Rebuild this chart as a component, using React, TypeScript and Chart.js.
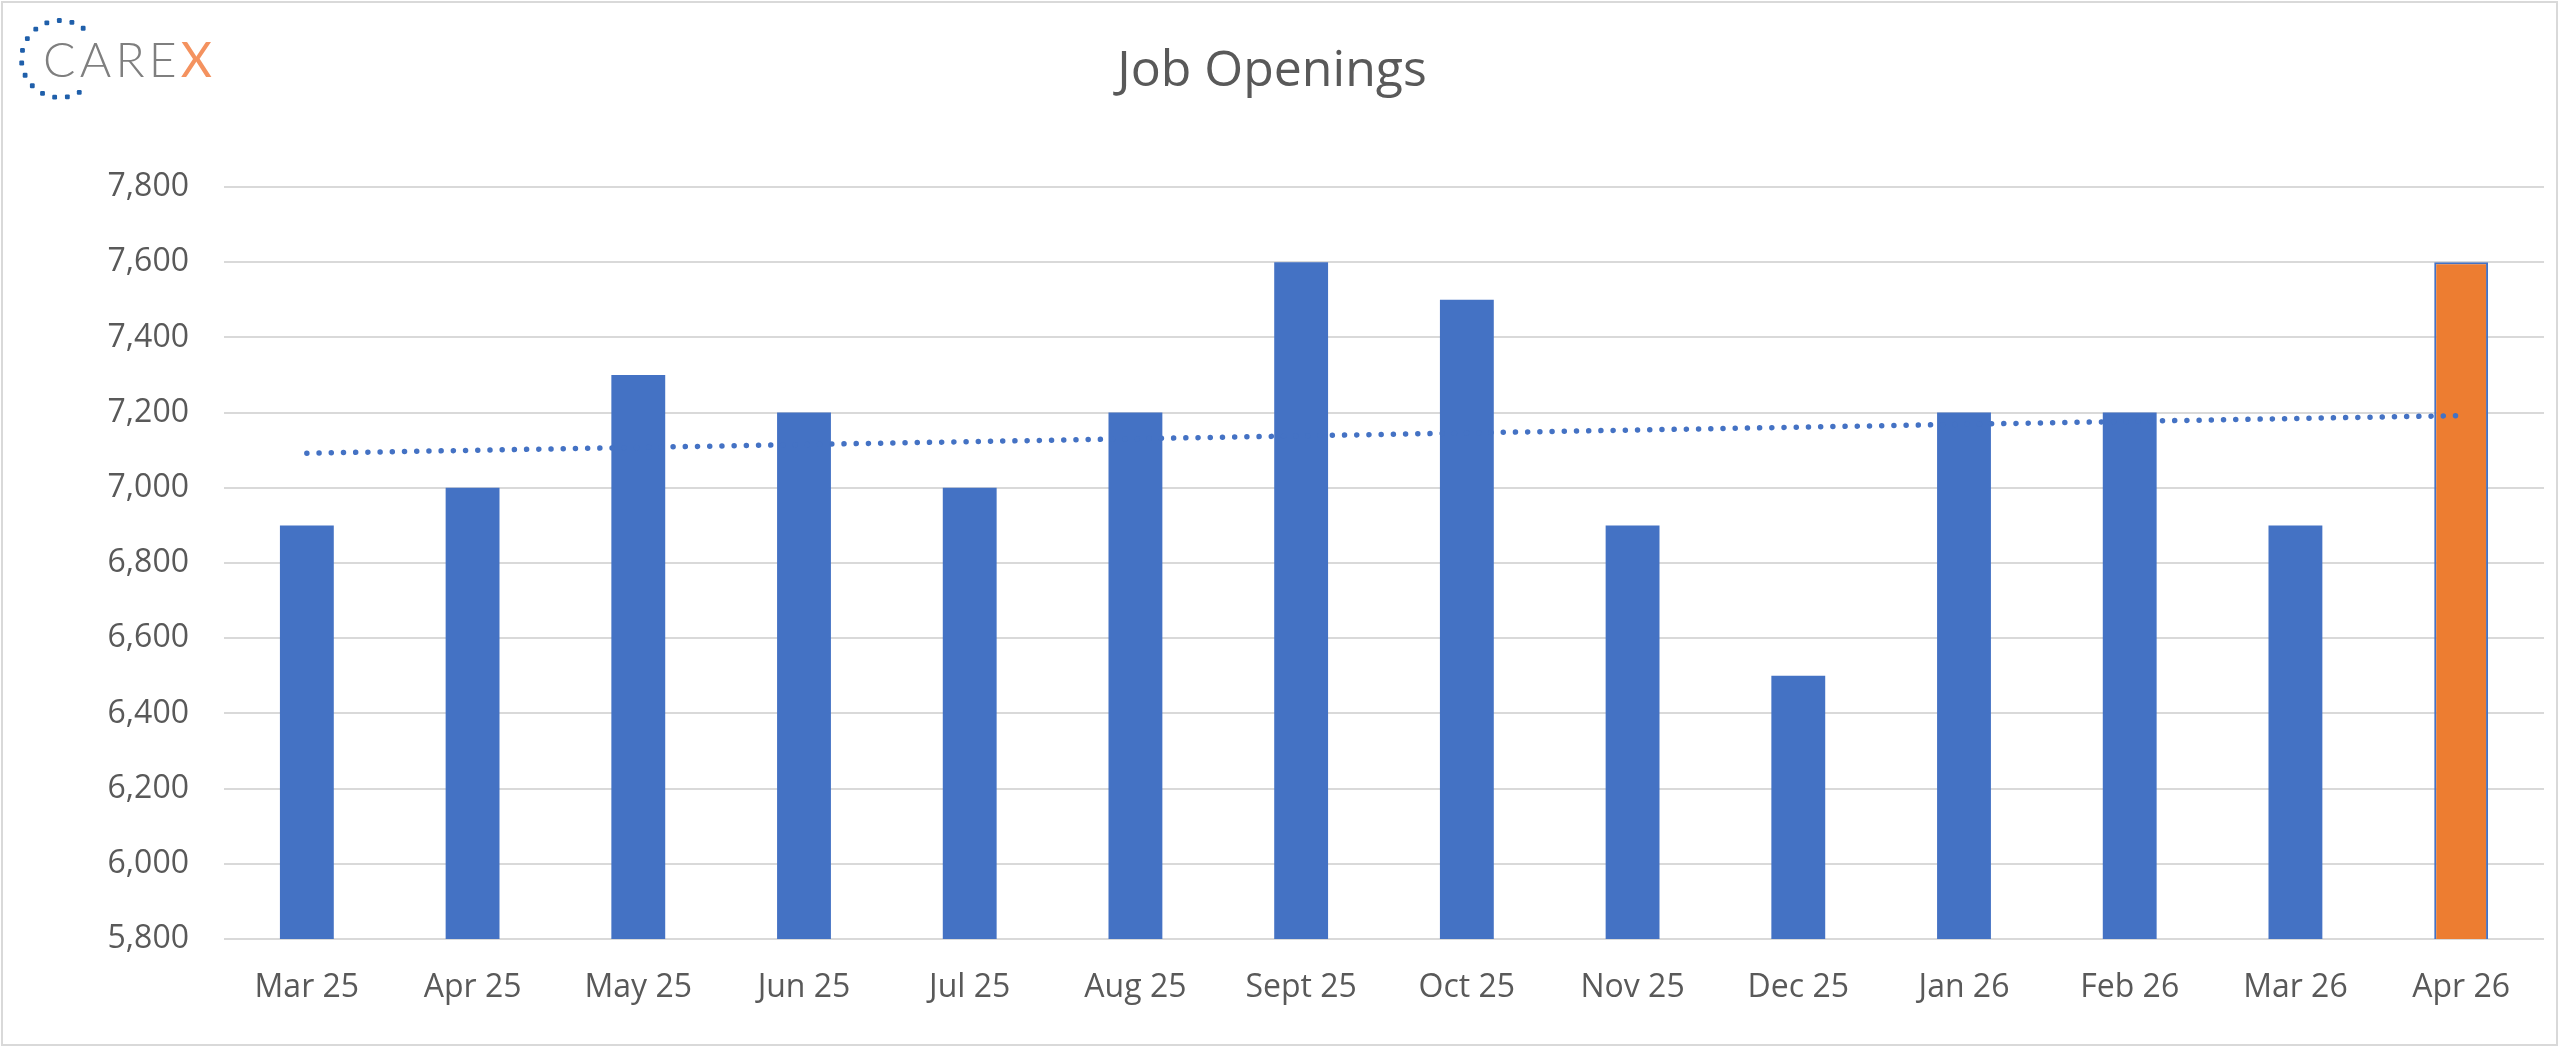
import React, { useRef, useEffect } from 'react';
import { Chart, registerables } from 'chart.js';
import type { ChartConfiguration } from 'chart.js';

Chart.register(...registerables);

// Job openings (thousands)
const months = [
  'Mar 25', 'Apr 25', 'May 25', 'Jun 25', 'Jul 25', 'Aug 25', 'Sept 25',
  'Oct 25', 'Nov 25', 'Dec 25', 'Jan 26', 'Feb 26', 'Mar 26', 'Apr 26',
];
const openings = [6900, 7000, 7300, 7200, 7000, 7200, 7600, 7500, 6900, 6500, 7200, 7200, 6900, 7600];
// dotted trend line: only the two ends are read, the line spans the gap
const trendEnds = [7092, null, null, null, null, null, null, null, null, null, null, null, null, 7192];
const yTickValues = [5800, 6000, 6200, 6400, 6600, 6800, 7000, 7200, 7400, 7600, 7800];

const BLUE = '#4472C4';
const ORANGE = '#ED7D31';
const TEXT = '#595959';
const GRID = '#d9d9d9';
const FONT = "'Open Sans', 'DejaVu Sans', sans-serif";

const barColors = openings.map((_, i) => (i === openings.length - 1 ? ORANGE : BLUE));
const barBorderWidths = openings.map((_, i) => (i === openings.length - 1 ? 2 : 0));

const Logo: React.FC = () => {
  // ring of dots, open on the right side
  const dots = [];
  for (let i = 0; i < 14; i++) {
    const a = ((-53 - i * 19) * Math.PI) / 180;
    dots.push(
      <rect key={i} x={60 + 38.5 * Math.cos(a) - 2.4} y={59 + 38.5 * Math.sin(a) - 2.4}
        width={4.8} height={4.8} rx={1.2} fill="#1F5FAA" />
    );
  }
  return (
    <svg width={260} height={120} style={{ position: 'absolute', left: 0, top: 0 }}>
      {dots}
      <text x={43} y={77} fontFamily="Lato, 'Open Sans', sans-serif" fontWeight={300}
        fontSize={48} fill="#7f7f7f" textLength={169} lengthAdjust="spacing">
        CARE<tspan fill="#F4925F" fontWeight={400}>X</tspan>
      </text>
    </svg>
  );
};

const JobOpeningsChart: React.FC = () => {
  const canvasRef = useRef<HTMLCanvasElement>(null);
  const chartRef = useRef<Chart | null>(null);

  useEffect(() => {
    if (!canvasRef.current) return;
    if (chartRef.current) chartRef.current.destroy();

    const config: ChartConfiguration = {
      type: 'bar',
      data: {
        labels: months,
        datasets: [
          {
            type: 'line',
            label: 'Trend',
            data: trendEnds,
            borderColor: BLUE,
            borderWidth: 5.5,
            borderDash: [0.01, 12.2],
            borderCapStyle: 'round',
            pointRadius: 0,
            spanGaps: true,
            fill: false,
            order: 0,
          } as any,
          {
            type: 'bar',
            label: 'Job Openings',
            data: openings,
            backgroundColor: barColors,
            borderColor: BLUE,
            borderWidth: barBorderWidths,
            borderSkipped: false,
            barPercentage: 0.325,
            categoryPercentage: 1,
            order: 1,
          },
        ],
      },
      options: {
        responsive: true,
        maintainAspectRatio: false,
        animation: false,
        layout: { padding: { top: 0, left: 0, right: 16, bottom: 0 } },
        plugins: {
          legend: { display: false },
          tooltip: { enabled: false },
          title: {
            display: true,
            text: 'Job Openings',
            color: TEXT,
            font: { family: FONT, size: 50, weight: 'normal' },
            padding: { top: 42, bottom: 85 },
          },
        },
        scales: {
          x: {
            grid: { display: false, drawTicks: false },
            border: { display: false },
            ticks: {
              color: TEXT,
              font: { family: FONT, size: 32 },
              padding: 30,
              maxRotation: 0,
              autoSkip: false,
            },
            afterFit: (axis: any) => {
              axis.height = 109;
            },
          },
          y: {
            min: 5800,
            max: 7800,
            grid: { color: GRID, lineWidth: 2, drawTicks: false },
            border: { display: false },
            ticks: {
              color: TEXT,
              font: { family: FONT, size: 32 },
              padding: 35,
              callback: (v: any) => Number(v).toLocaleString('en-US'),
            },
            afterBuildTicks: (axis: any) => {
              axis.ticks = yTickValues.map((value) => ({ value }));
            },
            afterFit: (axis: any) => {
              axis.width = 224;
            },
          },
        },
      },
    };

    chartRef.current = new Chart(canvasRef.current, config);

    return () => {
      if (chartRef.current) {
        chartRef.current.destroy();
        chartRef.current = null;
      }
    };
  }, []);

  return (
    <div style={{ position: 'absolute', left: 0, top: 0, width: 2560, height: 1048 }}>
      <canvas ref={canvasRef}></canvas>
    </div>
  );
};

const App: React.FC = () => {
  return (
    <div style={{ position: 'fixed', left: 0, top: 0, width: 2560, height: 1048, background: '#fff', overflow: 'hidden' }}>
      <JobOpeningsChart />
      <Logo />
      <div style={{
        position: 'absolute', left: 1, top: 1, width: 2557, height: 1045,
        boxSizing: 'border-box', border: `2px solid ${GRID}`, pointerEvents: 'none',
      }} />
    </div>
  );
};

export default App;
